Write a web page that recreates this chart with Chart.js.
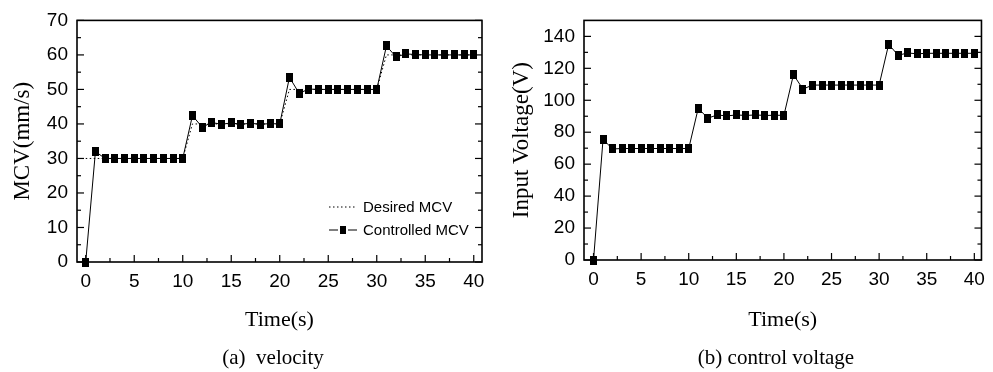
<!DOCTYPE html>
<html>
<head>
<meta charset="utf-8">
<script src="https://cdn.jsdelivr.net/npm/chart.js@4"></script>
<style>
body{margin:0;background:#fff;width:993px;height:372px;position:relative;overflow:hidden}
.box{position:absolute;top:0;height:372px}
.cap{position:absolute;top:345px;font:21px "Liberation Serif",serif;color:#000;transform:translateX(-50%);white-space:nowrap;line-height:24px}
</style>
</head>
<body>
<div class="box" style="left:0;width:493px"><canvas id="velChart" width="493" height="372"></canvas></div>
<div class="box" style="left:493px;width:500px"><canvas id="voltChart" width="500" height="372"></canvas></div>
<div class="cap" style="left:273px">(a)&nbsp; velocity</div>
<div class="cap" style="left:776px">(b) control voltage</div>
<script>
const time=[0,1,2,3,4,5,6,7,8,9,10,11,12,13,14,15,16,17,18,19,20,21,22,23,24,25,26,27,28,29,30,31,32,33,34,35,36,37,38,39,40]
const desiredMCV=[30,30,30,30,30,30,30,30,30,30,30,40,40,40,40,40,40,40,40,40,40,50,50,50,50,50,50,50,50,50,50,60,60,60,60,60,60,60,60,60,60]
const controlledMCV=[0,32,30,30,30,30,30,30,30,30,30,42.4,39.1,40.4,39.9,40.3,39.9,40.2,39.9,40.1,40,53.5,48.9,50.1,50,50,50,50,50,50,50,62.6,59.4,60.3,60.1,60,60,60,60,60,60]
const inputVoltage=[0,75.5,69.5,69.8,69.8,69.8,69.8,69.8,69.8,69.8,69.8,95,88.8,90.8,90.2,90.8,90.5,90.8,90.5,90.6,90.6,116,107,109.5,109.5,109.5,109.5,109.5,109.5,109.5,109.5,135,128.2,129.6,129.1,129.4,129.4,129.4,129.4,129.4,129.4]
const timeTicks=[0,5,10,15,20,25,30,35,40]
const mcvTicks=[0,10,20,30,40,50,60,70]
const voltTicks=[0,20,40,60,80,100,120,140]

const tickFont={family:"Liberation Sans",size:19}
const titleFont={family:"Liberation Serif",size:23}

// filled marker, a bit taller than wide
const marker=document.createElement("canvas")
marker.width=7
marker.height=9
marker.getContext("2d").fillRect(0,0,7,9)

function pts(ys){
return time.map((t,i)=>({x:t,y:ys[i]}))
}

// box round the plot and inward ticks on left, right and bottom
const frame={
id:"frame",
beforeDatasetsDraw(chart){
const {ctx,chartArea:a,scales:{x,y}}=chart
const line=(x1,y1,x2,y2)=>{ctx.beginPath();ctx.moveTo(x1,y1);ctx.lineTo(x2,y2);ctx.stroke()}
ctx.save()
ctx.strokeStyle="#000"
ctx.lineWidth=1.2
const xt=x.ticks.map(t=>t.value)
xt.forEach((v,i)=>{
const px=x.getPixelForValue(v)
line(px,a.bottom,px,a.bottom-7)
if(i<xt.length-1){
const m=x.getPixelForValue((v+xt[i+1])/2)
line(m,a.bottom,m,a.bottom-4)
}
})
const yt=y.ticks.map(t=>t.value)
yt.forEach((v,i)=>{
const py=y.getPixelForValue(v)
line(a.left,py,a.left+7,py)
line(a.right,py,a.right-7,py)
if(i<yt.length-1){
const m=y.getPixelForValue((v+yt[i+1])/2)
line(a.left,m,a.left+4,m)
line(a.right,m,a.right-4,m)
}
})
ctx.lineWidth=1.6
ctx.strokeRect(a.left,a.top,a.right-a.left,a.bottom-a.top)
ctx.restore()
}
}

// small legend inside the plot, lower right
const innerLegend={
id:"innerLegend",
afterDraw(chart,args,opts){
if(!opts.show) return
const {ctx}=chart
const ds=chart.data.datasets
ctx.save()
ctx.fillStyle="#000"
ctx.strokeStyle="#000"
ctx.font="15px 'Liberation Sans'"
ctx.textBaseline="middle"
let yy=opts.y
ds.forEach(d=>{
ctx.lineWidth=1
if(d.pointRadius===0){
ctx.setLineDash([1.5,2.5])
ctx.beginPath();ctx.moveTo(opts.x,yy);ctx.lineTo(opts.x+28,yy);ctx.stroke()
ctx.setLineDash([])
}else{
ctx.beginPath();ctx.moveTo(opts.x,yy);ctx.lineTo(opts.x+9,yy);ctx.moveTo(opts.x+19,yy);ctx.lineTo(opts.x+28,yy);ctx.stroke()
ctx.fillRect(opts.x+11,yy-4,6,8)
}
ctx.fillText(d.label,opts.x+34,yy+1)
yy+=opts.gap
})
ctx.restore()
}
}

function makeChart(id,datasets,o){
return new Chart(document.getElementById(id),{
type:"line",
data:{datasets:datasets},
options:{
responsive:false,
animation:false,
events:[],
layout:{padding:{left:0,top:o.top,right:o.right,bottom:0}},
scales:{
x:{
type:"linear",min:o.xmin,max:o.xmax,
afterBuildTicks:s=>{s.ticks=timeTicks.map(v=>({value:v}))},
afterFit:s=>{s.height=o.xh},
grid:{display:false,drawTicks:false},
border:{display:false},
ticks:{color:"#000",font:tickFont,padding:8,maxRotation:0,autoSkip:false},
title:{display:true,text:"Time(s)",color:"#000",font:{family:"Liberation Serif",size:22},padding:{top:0,bottom:39}}
},
y:{
type:"linear",min:o.ymin,max:o.ymax,
afterBuildTicks:s=>{s.ticks=o.yTicks.map(v=>({value:v}))},
afterFit:s=>{s.width=o.yw},
grid:{display:false,drawTicks:false},
border:{display:false},
ticks:{color:"#000",font:tickFont,padding:9,autoSkip:false},
title:{display:true,text:o.ytitle,color:"#000",font:titleFont,padding:{top:o.ytp,bottom:0}}
}
},
plugins:{
legend:{display:false},
tooltip:{enabled:false},
innerLegend:o.legend||{show:false}
}
},
plugins:[frame,innerLegend]
})
}

makeChart("velChart",[
{label:"Desired MCV",data:pts(desiredMCV),borderColor:"#000",borderWidth:1,borderDash:[1.5,2.5],pointRadius:0,clip:false},
{label:"Controlled MCV",data:pts(controlledMCV),borderColor:"#000",backgroundColor:"#000",borderWidth:1,pointStyle:marker,pointRadius:5,clip:false}
],{top:13,right:11,xh:110,yw:77,xmin:-0.9,xmax:40.85,ymin:0,ymax:70,yTicks:mcvTicks,ytitle:"MCV(mm/s)",ytp:9,
legend:{show:true,x:329,y:207,gap:23}})

makeChart("voltChart",[
{label:"Input Voltage",data:pts(inputVoltage),borderColor:"#000",backgroundColor:"#000",borderWidth:1,pointStyle:marker,pointRadius:5,clip:false}
],{top:20,right:4,xh:112,yw:91,xmin:-1,xmax:40.75,ymin:0,ymax:150,yTicks:voltTicks,ytitle:"Input Voltage(V)",ytp:15})
</script>
</body>
</html>
